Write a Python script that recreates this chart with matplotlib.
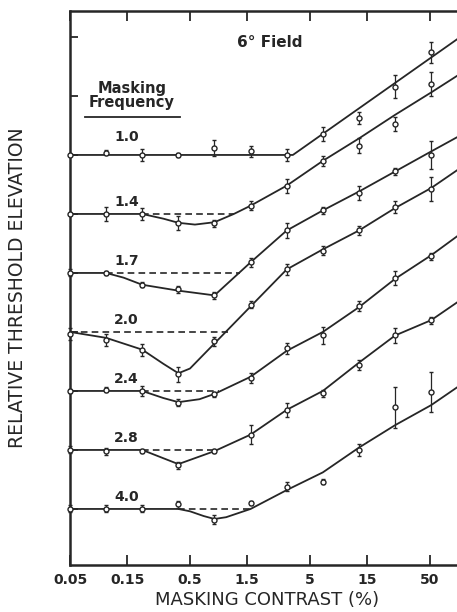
import numpy as np
import matplotlib
matplotlib.use('Agg')
import matplotlib.pyplot as plt
from matplotlib.ticker import FixedLocator, NullLocator, FixedFormatter

ink = '#262626'

# masking contrast (%) of the measured points
contrast = [0.05, 0.1, 0.2, 0.4, 0.8, 1.6, 3.2, 6.4, 12.8, 25.6, 51.2]

# masking frequencies, one curve each, and the vertical offset of each curve
freqs = ['1.0', '1.4', '1.7', '2.0', '2.4', '2.8', '4.0']
offsets = [3.5, 3.0, 2.5, 2.0, 1.5, 1.0, 0.5]

# relative threshold elevation (log units above each curve's baseline)
elev = [
    [0, 0.02, 0, 0, 0.06, 0.03, 0, 0.18, 0.31, 0.58, 0.87],
    [0, 0, 0, -0.08, -0.08, 0.07, 0.24, 0.45, 0.58, 0.76, 1.10],
    [0, 0, -0.10, -0.14, -0.19, 0.09, 0.36, 0.53, 0.68, 0.86, 1.00],
    [-0.02, -0.07, -0.15, -0.36, -0.08, 0.23, 0.53, 0.69, 0.86, 1.06, 1.21],
    [0, 0.01, 0, -0.10, -0.03, 0.11, 0.36, 0.47, 0.72, 0.96, 1.14],
    [0, -0.01, -0.01, -0.13, -0.01, 0.13, 0.34, 0.48, 0.72, 0.97, 1.10],
    [0, 0, 0, 0.04, -0.09, 0.05, 0.19, 0.23, 0.50, 0.86, 0.99],
]
err = [
    [0, 0.02, 0.05, 0.02, 0.07, 0.05, 0.05, 0.06, 0.05, 0.10, 0.09],
    [0, 0.06, 0.05, 0.06, 0.03, 0.04, 0.06, 0.04, 0.06, 0.06, 0.10],
    [0.03, 0.02, 0.02, 0.03, 0.03, 0.04, 0.06, 0.03, 0.06, 0.03, 0.12],
    [0.05, 0.05, 0.05, 0.06, 0.04, 0.03, 0.05, 0.04, 0.04, 0.05, 0.10],
    [0.02, 0.02, 0.04, 0.03, 0.02, 0.04, 0.05, 0.07, 0.04, 0.06, 0.03],
    [0.03, 0.03, 0.02, 0.03, 0.02, 0.08, 0.06, 0.03, 0.04, 0.06, 0.03],
    [0.03, 0.03, 0.03, 0.03, 0.04, 0.02, 0.04, 0.02, 0.05, 0.17, 0.17],
]

# fitted curves
fit_c = [
    [0.05, 3.6, 84],
    [0.05, 0.2, 0.3, 0.4, 0.55, 0.8, 1.16, 1.6, 3.2, 6.4, 12.8, 25.6, 51.2, 84],
    [0.05, 0.1, 0.14, 0.2, 0.4, 0.8, 1.6, 3.2, 6.4, 12.8, 25.6, 51.2, 84],
    [0.05, 0.1, 0.2, 0.3, 0.4, 0.5, 3.2, 6.4, 12.8, 25.6, 51.2, 84],
    [0.05, 0.2, 0.3, 0.4, 0.6, 0.8, 1.6, 3.2, 6.4, 12.8, 25.6, 51.2, 84],
    [0.05, 0.2, 0.4, 0.8, 1.6, 3.2, 6.4, 12.8, 25.6, 51.2, 84],
    [0.05, 0.4, 0.5, 0.65, 0.8, 1.0, 1.6, 3.2, 6.4, 12.8, 25.6, 51.2, 84],
]
fit_e = [
    [0, 0, 0.98],
    [0, 0, -0.04, -0.075, -0.09, -0.07, 0, 0.07, 0.24, 0.45, 0.64, 0.84, 1.03, 1.17],
    [0, 0, -0.04, -0.10, -0.15, -0.19, 0.09, 0.36, 0.53, 0.69, 0.86, 1.03, 1.15],
    [0, -0.05, -0.15, -0.27, -0.35, -0.31, 0.53, 0.70, 0.86, 1.05, 1.22, 1.37],
    [0, 0, -0.06, -0.095, -0.07, -0.025, 0.12, 0.34, 0.50, 0.71, 0.95, 1.15, 1.31],
    [0, 0, -0.12, -0.01, 0.13, 0.34, 0.50, 0.74, 0.97, 1.10, 1.25],
    [0, 0, -0.02, -0.06, -0.085, -0.07, 0.0, 0.16, 0.31, 0.52, 0.71, 0.88, 1.03],
]
# dashed baseline (no-masking level) spans
dash_span = [None, (0.2, 1.16), (0.1, 1.3), (0.05, 1.03), (0.2, 0.87), (0.2, 0.8), (0.4, 1.6)]

xticks = [0.05, 0.15, 0.5, 1.5, 5, 15, 50]
xtick_labels = ['0.05', '0.15', '0.5', '1.5', '5', '15', '50']

fig = plt.figure(figsize=(4.57, 6.12), dpi=100)
ax = fig.add_axes([70/457, 47/612, 387/457, 554/612])
ax.set_xscale('log')

for i in range(len(freqs)):
    off = offsets[i]
    ax.plot(fit_c[i], np.array(fit_e[i]) + off, color=ink, lw=1.3, zorder=2)
    if dash_span[i] is not None:
        ax.plot(dash_span[i], [off, off], color=ink, lw=1.2,
                ls=(0, (4, 2.5)), zorder=2)
    ax.errorbar(contrast, np.array(elev[i]) + off, yerr=err[i], fmt='o',
                ms=3.6, mfc='white', mec=ink, mew=1.0, ecolor=ink,
                elinewidth=0.9, capsize=1.6, capthick=0.9, zorder=3,
                clip_on=False)
    dy = 0.09 if i == 0 else 0.045
    ax.text(0.148, off + dy, freqs[i], ha='center', va='bottom',
            fontsize=10, fontweight='bold', color=ink)

ax.text(0.16, 0.861, 'Masking', transform=ax.transAxes, ha='center',
        va='center', fontsize=10.5, fontweight='bold', color=ink)
ax.text(0.16, 0.834, 'Frequency', transform=ax.transAxes, ha='center',
        va='center', fontsize=10.5, fontweight='bold', color=ink)
ax.plot([0.039, 0.284], [0.809, 0.809], transform=ax.transAxes,
        color=ink, lw=1.3)
ax.text(0.517, 0.944, '6° Field', transform=ax.transAxes, ha='center',
        va='center', fontsize=11, fontweight='bold', color=ink)

ax.set_xlim(0.05, 84)
ax.set_ylim(0.025, 4.72)

ax.xaxis.set_major_locator(FixedLocator(xticks))
ax.xaxis.set_major_formatter(FixedFormatter(xtick_labels))
ax.xaxis.set_minor_locator(NullLocator())
ax.set_yticks(np.arange(0.5, 4.6, 0.5))
ax.set_yticklabels([])
ax.tick_params(axis='x', direction='in', length=7, width=1.3, top=True,
               labelsize=10, colors=ink, pad=6)
ax.tick_params(axis='y', direction='in', length=6, width=1.3, colors=ink)
for lab in ax.get_xticklabels():
    lab.set_fontweight('bold')

for s in ['left', 'bottom', 'top']:
    ax.spines[s].set_linewidth(1.8)
    ax.spines[s].set_color(ink)
ax.spines['right'].set_visible(False)

ax.set_xlabel('MASKING CONTRAST (%)', fontsize=13, color=ink)
ax.xaxis.set_label_coords(0.51, -0.063)
ax.xaxis.label.set_va('center')
ax.set_ylabel('RELATIVE THRESHOLD ELEVATION', fontsize=13.5, color=ink)
ax.yaxis.set_label_coords(-0.11, 0.5)

fig.savefig('out.png', dpi=100)
